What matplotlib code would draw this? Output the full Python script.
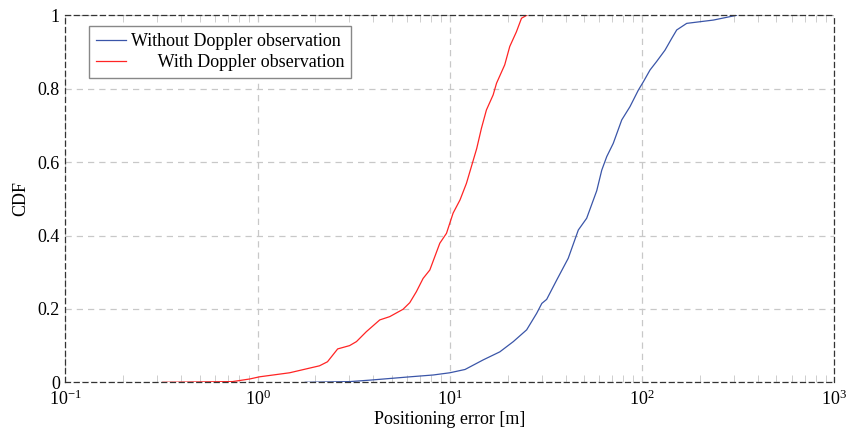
import matplotlib
matplotlib.use('Agg')
import matplotlib.pyplot as plt
import numpy as np
from matplotlib.ticker import LogLocator, NullFormatter, FixedLocator, FixedFormatter

plt.rcParams['font.family'] = ['Liberation Serif', 'DejaVu Serif']
plt.rcParams['mathtext.fontset'] = 'custom'
plt.rcParams['mathtext.rm'] = 'Liberation Serif'
plt.rcParams['mathtext.it'] = 'Liberation Serif:italic'

# CDF (error in metres, cumulative fraction)
err_without = [1.77, 3.03, 3.85, 6.21, 8.2, 10.0, 12.0, 14.9, 18.2, 21.4, 25.1,
               28.3, 30.1, 31.9, 36.0, 41.3, 46.6, 51.5, 58.1, 61.7, 65.5, 70.8,
               78.4, 86.5, 95.6, 101.6, 110, 119, 131.6, 142.6, 151.4, 170.7,
               235, 310]
cdf_without = [0.0, 0.002, 0.006, 0.015, 0.02, 0.026, 0.035, 0.061, 0.083, 0.111,
               0.143, 0.188, 0.215, 0.226, 0.279, 0.338, 0.415, 0.447, 0.522,
               0.578, 0.615, 0.651, 0.715, 0.751, 0.796, 0.819, 0.851, 0.874,
               0.905, 0.937, 0.96, 0.978, 0.987, 1.0]

err_with = [0.321, 0.741, 0.908, 1.024, 1.468, 2.10, 2.31, 2.61, 3.01, 3.27, 3.68,
            4.32, 4.87, 5.71, 6.19, 6.70, 7.26, 7.87, 8.87, 9.61, 10.4, 11.3,
            12.2, 13.8, 14.6, 15.5, 16.8, 17.5, 19.3, 20.5, 22.2, 23.6, 25.1]
cdf_with = [0.0, 0.002, 0.009, 0.015, 0.026, 0.045, 0.056, 0.091, 0.100, 0.111,
            0.138, 0.170, 0.179, 0.199, 0.217, 0.247, 0.283, 0.306, 0.379, 0.406,
            0.461, 0.497, 0.542, 0.637, 0.692, 0.742, 0.783, 0.815, 0.865, 0.915,
            0.955, 0.992, 1.0]

y_ticks = [0, 0.2, 0.4, 0.6, 0.8, 1]
y_labels = ['0', '0.2', '0.4', '0.6', '0.8', '1']

fig = plt.figure(figsize=(8.46, 4.32), dpi=100)
ax = fig.add_axes([0.0772, 0.115, 0.9090, 0.8496])

ax.plot(err_without, cdf_without, color='#3a55a8', lw=0.9,
        label='Without Doppler observation')
ax.plot(err_with, cdf_with, color='#ff2424', lw=0.9,
        label='      With Doppler observation')

ax.set_xscale('log')
ax.set_xlim(0.1, 1000)
ax.set_ylim(0, 1)
ax.xaxis.set_major_locator(LogLocator(base=10, numticks=10))
ax.xaxis.set_minor_locator(LogLocator(base=10, subs=np.arange(2, 10), numticks=10))
ax.xaxis.set_minor_formatter(NullFormatter())
ax.yaxis.set_major_locator(FixedLocator(y_ticks))
ax.yaxis.set_major_formatter(FixedFormatter(y_labels))

ax.grid(True, which='major', color='#c8c8c8', linestyle=(0, (5, 4)), lw=0.9)
ax.tick_params(which='both', direction='in', top=True, right=False,
               labelsize=13, labelcolor='black')
ax.tick_params(which='major', length=0)
ax.tick_params(axis='x', which='major', pad=5)
ax.tick_params(axis='y', which='major', pad=4)
ax.tick_params(which='minor', length=5, width=0.5, color='#bbbbbb')

for s in ax.spines.values():
    s.set_linestyle((0, (4, 3)))
    s.set_color('#333333')
    s.set_linewidth(0.9)

ax.set_xlabel('Positioning error [m]', fontsize=13, labelpad=2)
ax.set_ylabel('CDF', fontsize=13, labelpad=6)

leg = ax.legend(loc='upper left', bbox_to_anchor=(0.031, 0.971), borderaxespad=0,
                fontsize=13, fancybox=False, framealpha=1, edgecolor='#888888',
                handlelength=1.65, handletextpad=0.25, borderpad=0.4,
                labelspacing=0.22)
leg.get_frame().set_linewidth(1.0)

fig.savefig('out.png', dpi=100)
